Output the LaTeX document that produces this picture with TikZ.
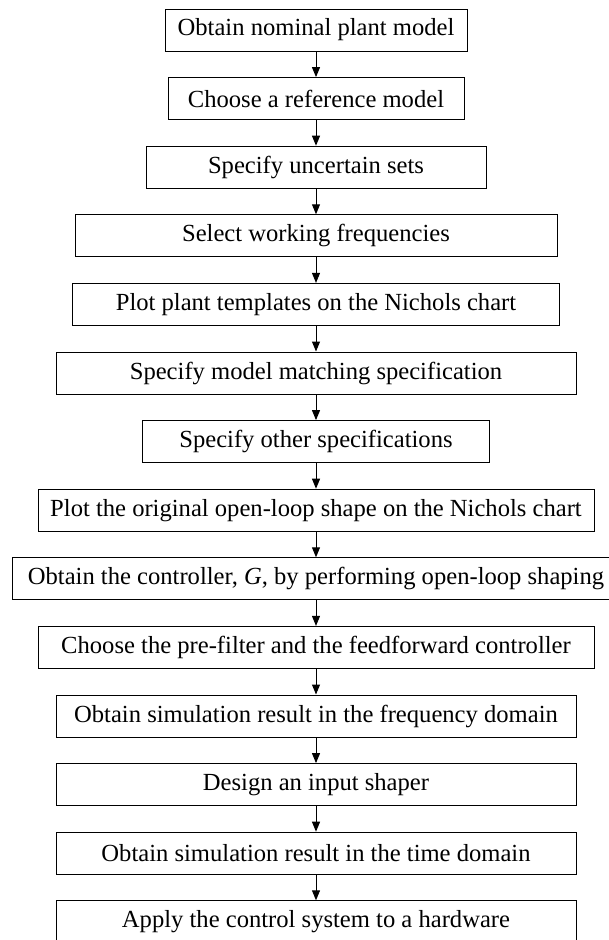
\documentclass[tikz,border=0pt]{standalone}
\usepackage{fontspec}
\setmainfont{Liberation Serif}
\usetikzlibrary{arrows.meta}
\begin{document}
\begin{tikzpicture}[x=1pt,y=1pt,
  stepbox/.style={draw=black,line width=1pt,minimum height=42pt,inner sep=0pt,
    font=\fontsize{24.6}{29}\selectfont,anchor=center},
  flow/.style={line width=1pt,-{Triangle[length=10pt,width=8pt]}}]
\useasboundingbox (0,0) rectangle (608,-940);
\def\yy#1{-30-68.6*#1}
\node[stepbox,minimum width=302pt] (b1) at (316,{\yy{0}}) {Obtain nominal plant model};
\node[stepbox,minimum width=296pt] (b2) at (316,{\yy{1}}) {Choose a reference model};
\node[stepbox,minimum width=340pt] (b3) at (316,{\yy{2}}) {Specify uncertain sets};
\node[stepbox,minimum width=482pt] (b4) at (316,{\yy{3}}) {Select working frequencies};
\node[stepbox,minimum width=487pt] (b5) at (316,{\yy{4}}) {Plot plant templates on the Nichols chart};
\node[stepbox,minimum width=520pt] (b6) at (316,{\yy{5}}) {Specify model matching specification};
\node[stepbox,minimum width=347pt] (b7) at (316,{\yy{6}}) {Specify other specifications};
\node[stepbox,minimum width=556pt] (b8) at (316,{\yy{7}}) {Plot the original open-loop shape on the Nichols chart};
\node[stepbox,minimum width=607pt] (b9) at (316,{\yy{8}}) {Obtain the controller, \textit{G}, by performing open-loop shaping};
\node[stepbox,minimum width=556pt] (b10) at (316,{\yy{9}}) {Choose the pre-filter and the feedforward controller};
\node[stepbox,minimum width=520pt] (b11) at (316,{\yy{10}}) {Obtain simulation result in the frequency domain};
\node[stepbox,minimum width=520pt] (b12) at (316,{\yy{11}}) {Design an input shaper};
\node[stepbox,minimum width=520pt] (b13) at (316,{\yy{12}}) {Obtain simulation result in the time domain};
\node[stepbox,minimum width=520pt] (b14) at (316,{\yy{13}}) {Apply the control system to a hardware};
\foreach \a/\b in {b1/b2,b2/b3,b3/b4,b4/b5,b5/b6,b6/b7,b7/b8,b8/b9,b9/b10,b10/b11,b11/b12,b12/b13,b13/b14}
  \draw[flow] (\a.south) -- (\b.north);
\end{tikzpicture}
\end{document}
